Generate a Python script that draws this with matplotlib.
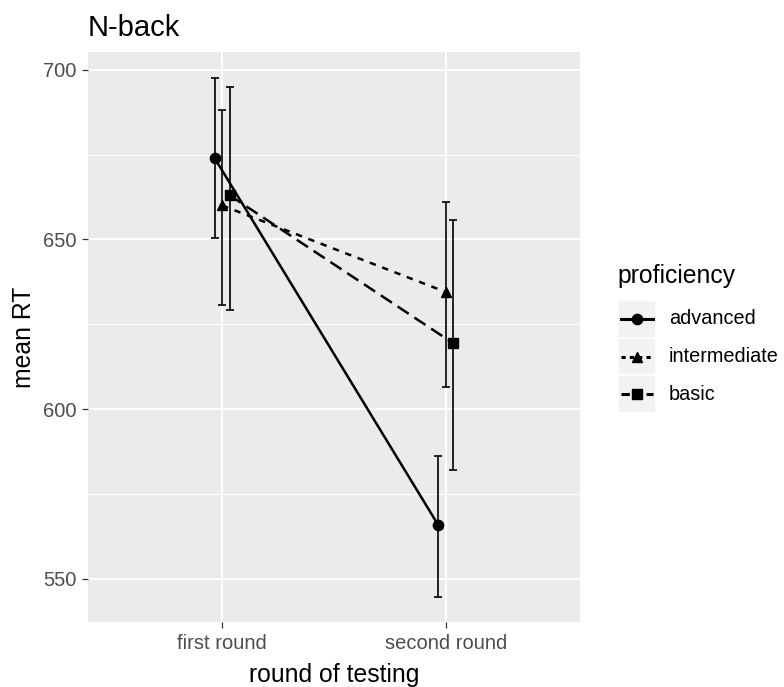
import matplotlib
matplotlib.use("Agg")
import matplotlib.pyplot as plt
from matplotlib.patches import Rectangle
from matplotlib.lines import Line2D
from matplotlib.ticker import FixedLocator
import numpy as np

plt.rcParams['font.family'] = ['Liberation Sans', 'DejaVu Sans']
plt.rcParams['lines.scale_dashes'] = False

# ---- data ----
rounds = ["first round", "second round"]
levels = ["advanced", "intermediate", "basic"]
mean_rt = {
    "advanced":     [673.9, 565.8],
    "intermediate": [660.0, 634.5],
    "basic":        [663.0, 619.4],
}
upper_rt = {
    "advanced":     [697.6, 586.3],
    "intermediate": [688.0, 661.1],
    "basic":        [695.0, 655.7],
}
lower_rt = {
    "advanced":     [650.4, 544.8],
    "intermediate": [630.8, 606.4],
    "basic":        [629.3, 582.1],
}
y_ticks = [550, 600, 650, 700]
y_minor = [575, 625, 675]

# ---- styles ----
markers = {"advanced": "o", "intermediate": "^", "basic": "s"}
msizes = {"advanced": 7.4, "intermediate": 7.8, "basic": 7.0}
dashes = {"advanced": None, "intermediate": (4.6, 4.9), "basic": (9.6, 4.9)}
line_w = 1.8
dodge = 0.1
offsets = {"advanced": -dodge / 3, "intermediate": 0.0, "basic": dodge / 3}

W, H = 784, 687
fig = plt.figure(figsize=(W / 100, H / 100), dpi=100)
ax = fig.add_axes([88 / W, 1 - 622 / H, (580 - 88) / W, (622 - 51.7) / H])
ax.set_facecolor("#EBEBEB")
for s in ax.spines.values():
    s.set_visible(False)

x = np.arange(1, len(rounds) + 1)
for lv in levels:
    xs = x + offsets[lv]
    m = np.array(mean_rt[lv])
    lo = np.array(lower_rt[lv])
    hi = np.array(upper_rt[lv])
    ln, = ax.plot(xs, m, color="black", lw=line_w, zorder=3)
    if dashes[lv] is not None:
        ln.set_dashes(dashes[lv])
    ax.plot(xs, m, linestyle="none", marker=markers[lv], ms=msizes[lv],
            color="black", zorder=4)
    ax.errorbar(xs, m, yerr=[m - lo, hi - m], fmt="none", ecolor="black",
                elinewidth=1.2, capsize=2.9, capthick=1.2, zorder=2)

ax.set_xlim(0.4, 2.6)
ax.set_ylim(537.3, 705.3)
ax.set_xticks(x)
ax.set_xticklabels(rounds)
ax.set_yticks(y_ticks)
ax.yaxis.set_minor_locator(FixedLocator(y_minor))
ax.grid(True, which="major", color="white", lw=1.5, zorder=0)
ax.grid(True, which="minor", axis="y", color="white", lw=0.75, zorder=0)
ax.set_axisbelow(True)
ax.tick_params(axis="both", which="major", length=4.5, width=0.9, color="#333333",
               labelcolor="#4D4D4D", labelsize=14.5, pad=4)
ax.tick_params(axis="y", which="minor", length=0)

# titles
fig.text(88 / W, 1 - 36 / H, "N-back", fontsize=21, ha="left", va="baseline")
fig.text(334 / W, 1 - 682 / H, "round of testing", fontsize=17.8, ha="center",
         va="baseline")
fig.text(24 / W, 1 - 337 / H, "mean RT", fontsize=17.8, rotation=90,
         ha="center", va="center")

# legend
kx0, kx1 = 618, 656
ky0, ky1 = 300, 413
lax = fig.add_axes([kx0 / W, 1 - ky1 / H, (kx1 - kx0) / W, (ky1 - ky0) / H])
lax.set_xlim(0, 1)
lax.set_ylim(0, len(levels))
lax.axis("off")
for i, lv in enumerate(levels):
    yb = len(levels) - 1 - i
    lax.add_patch(Rectangle((0, yb), 1, 1, facecolor="#F2F2F2", edgecolor="white",
                            lw=1.2, clip_on=False))
    l = Line2D([0.08, 0.92], [yb + 0.5, yb + 0.5], color="black", lw=line_w + 0.4)
    if dashes[lv] is not None:
        l.set_dashes((3.0, 3.0) if lv == "intermediate" else (6.0, 3.0))
    lax.add_line(l)
    lax.plot([0.5], [yb + 0.5], marker=markers[lv], ms=msizes[lv], color="black",
             linestyle="none")
    ycen = ky0 + (i + 0.5) * (ky1 - ky0) / len(levels)
    fig.text(669 / W, 1 - ycen / H, lv, fontsize=14.3, ha="left", va="center")
fig.text(617 / W, 1 - 283 / H, "proficiency", fontsize=17.8, ha="left",
         va="baseline")

fig.savefig("out.png", dpi=100)
